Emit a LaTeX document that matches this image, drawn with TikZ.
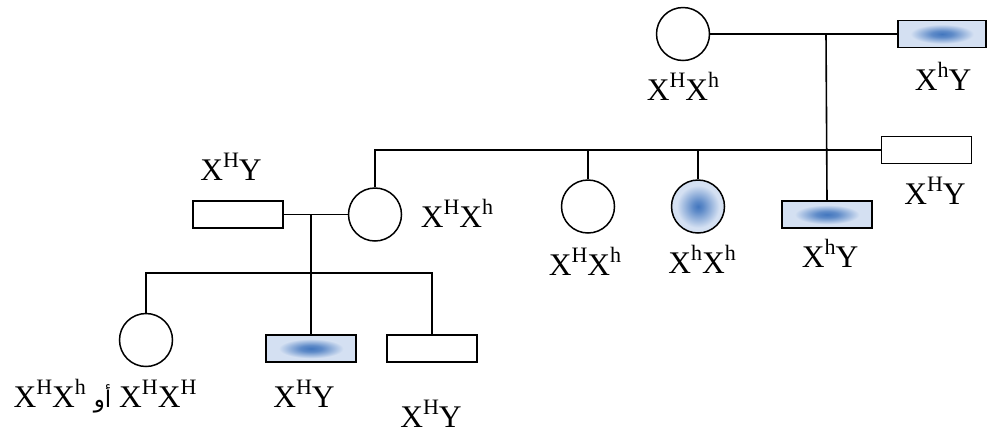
\documentclass[tikz,border=0pt]{standalone}
\usepackage{fontspec}
\setmainfont{Liberation Serif}
\newfontfamily\arabicfont[Script=Arabic]{DejaVu Sans}
\TeXXeTstate=1
\definecolor{pedblue}{RGB}{66,118,190}
\definecolor{pedpale}{RGB}{212,224,242}
\definecolor{pededge}{RGB}{234,240,249}
% blurred spot for affected individuals
\pgfdeclareradialshading{pedrect}{\pgfpoint{0bp}{0bp}}{%
  color(0bp)=(pedblue); color(6bp)=(pedblue!80!pedpale);
  color(18bp)=(pedpale); color(42bp)=(pedpale); color(60bp)=(pededge)}
\pgfdeclareradialshading{pedcirc}{\pgfpoint{0bp}{0bp}}{%
  color(0bp)=(pedblue); color(5bp)=(pedblue!80!pedpale);
  color(20bp)=(pedpale); color(40bp)=(pedpale); color(50bp)=(pededge)}
\newcommand\sps[1]{\raisebox{0.4em}{\fontsize{22}{22}\selectfont #1}}
\begin{document}
\begin{tikzpicture}[x=1pt,y=-1pt,
  fem/.style={circle, draw, line width=1.5pt, minimum size=53pt, inner sep=0pt},
  mal/.style={rectangle, draw, line width=1.5pt, minimum width=90pt, minimum height=27pt, inner sep=0pt},
  affrect/.style={shade, shading=pedrect},
  affcirc/.style={shade, shading=pedcirc},
  link/.style={line width=1.6pt},
  lbl/.style={font=\fontsize{31.5}{31.5}\selectfont, anchor=base, inner sep=0pt}]
\useasboundingbox (0,0) rectangle (987,432);

% first generation
\node[fem] (c0) at (683,34) {};
\node[mal, affrect, minimum width=88pt] (m0) at (942,34) {};
\coordinate (j0) at (826,34);

% second generation
\node[fem] (f1) at (375,214.5) {};
\node[fem] (f2) at (588,206.5) {};
\node[fem, affcirc] (f3) at (698,206.5) {};
\node[mal, affrect] (m1) at (827,214.5) {};
\node[mal] (m2) at (926.5,150) {};
\node[mal] (m3) at (238,214.5) {};
\coordinate (j1) at (311,214.5);

% third generation
\node[fem] (f5) at (146,340) {};
\node[mal, affrect] (m4) at (311,348.5) {};
\node[mal] (m5) at (432,348.5) {};
\coordinate (br) at (432,273);

% connectors
\draw[link] (c0.east) -- (m0.west);
\draw[link] (j0) -- (m1.north);
\draw[link] (f1.north) |- (m2.west);
\draw[link] (f2.north) -- (f2.north |- m2.west);
\draw[link] (f3.north) -- (f3.north |- m2.west);
\draw[link] (m3.east) -- (f1.west);
\draw[link] (j1) -- (m4.north);
\draw[link] (f5.north) |- (br) -- (m5.north);

% genotypes
\node[lbl] (l0) at (683,100) {X\sps{H}X\sps{h}};
\node[lbl] (l1) at (943,90) {X\sps{h}Y};
\node[lbl] (l2) at (935,204) {X\sps{H}Y};
\node[lbl] (l3) at (830,267) {X\sps{h}Y};
\node[lbl] (l4) at (702,273) {X\sps{h}X\sps{h}};
\node[lbl] (l5) at (585,275) {X\sps{H}X\sps{h}};
\node[lbl] (l6) at (457,227) {X\sps{H}X\sps{h}};
\node[lbl] (l7) at (231,180) {X\sps{H}Y};
\node[lbl] (l8) at (105,407) {X\sps{H}X\sps{h} {\arabicfont\fontsize{23}{23}\selectfont\beginR أو\endR} X\sps{H}X\sps{H}};
\node[lbl] (l9) at (304,407) {X\sps{H}Y};
\node[lbl] (l10) at (431,427) {X\sps{H}Y};
\end{tikzpicture}
\end{document}
